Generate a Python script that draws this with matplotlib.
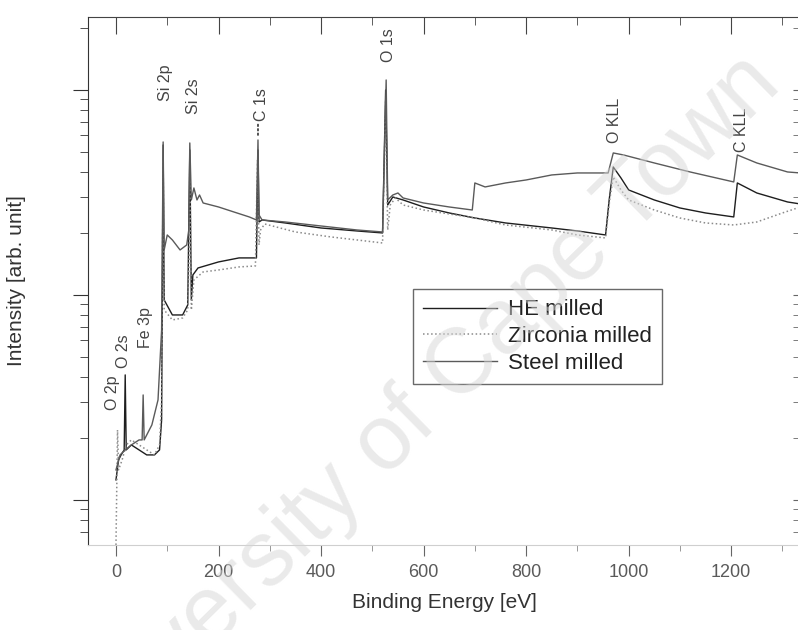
import numpy as np
import matplotlib.pyplot as plt
from matplotlib.ticker import MultipleLocator, LogLocator, NullFormatter

plt.rcParams['font.family'] = ['Liberation Sans', 'DejaVu Sans']

# binding energy [eV] and intensity [arb. unit]
e_steel = [0, 8, 18, 30, 45, 51, 53, 55, 70, 82, 89, 92, 94, 100, 110, 125, 138, 142, 144, 147,
           152, 158, 163, 170, 200, 230, 260, 274, 277, 279, 285, 330, 400, 470, 520, 527, 530,
           540, 550, 560, 600, 650, 695, 700, 720, 760, 800, 850, 900, 960, 970, 990, 1050,
           1120, 1205, 1212, 1250, 1310, 1335]
i_steel = [1401, 1658, 1754, 1855, 1962, 1962, 3252, 1962, 2322, 3075, 6750, 55770, 16580, 19620,
           18550, 16580, 17540, 20750, 55150, 29070, 33270, 29070, 30740, 28100, 26870, 25400,
           24020, 23220, 57040, 24560, 23220, 22700, 21700, 20750, 20290, 111900, 29070, 30740,
           31440, 29730, 28100, 26870, 25970, 35190, 33650, 35190, 36390, 38500, 39370, 39370,
           49290, 48190, 44050, 39810, 35590, 48190, 44050, 39810, 39370]

e_he = [0, 5, 10, 16, 18, 20, 30, 45, 60, 75, 85, 89, 92, 94, 110, 130, 140, 144, 147, 150, 160,
        200, 240, 274, 277, 279, 285, 330, 400, 470, 520, 526, 530, 540, 560, 600, 650, 700, 760,
        850, 900, 955, 962, 970, 985, 1000, 1050, 1100, 1150, 1205, 1212, 1250, 1310, 1335]
i_he = [1252, 1567, 1658, 1754, 4073, 1754, 1855, 1754, 1658, 1658, 1754, 2456, 53920, 9454, 7987,
        7987, 8938, 50970, 9454, 12520, 13540, 14490, 15160, 15160, 50970, 22700, 23220, 22450,
        21220, 20520, 20070, 100000, 27480, 30060, 29070, 26870, 25120, 23740, 22450, 21220,
        20520, 19620, 29070, 42110, 37220, 32520, 29070, 26570, 25120, 24020, 35190, 31440,
        28420, 27790]

e_zr = [0, 2, 3, 5, 12, 20, 30, 45, 60, 75, 85, 89, 92, 94, 110, 130, 140, 143, 144, 147, 152,
        170, 200, 240, 272, 276, 279, 282, 290, 350, 420, 470, 520, 526, 530, 535, 545, 560, 600,
        650, 700, 760, 850, 900, 955, 963, 970, 985, 1000, 1050, 1100, 1150, 1205, 1250, 1300,
        1335]
i_zr = [603, 1401, 2195, 1401, 1567, 1855, 1962, 1855, 1754, 1658, 1855, 3075, 45560, 8449, 7551,
        7723, 8449, 16580, 45560, 8449, 11840, 12950, 13240, 13700, 13850, 45560, 17540, 20750,
        22200, 20290, 19180, 18550, 17930, 89390, 20750, 27480, 29730, 27480, 25970, 24840,
        23740, 21950, 20750, 19620, 18970, 29070, 37640, 32520, 29070, 25970, 23740, 22450,
        21950, 22700, 25120, 26870]

peak_names = ['O 2p', 'O 2s', 'Fe 3p', 'Si 2p', 'Si 2s', 'C 1s', 'O 1s', 'O KLL', 'C KLL']
peak_e = [-6, 14, 58, 96, 152, 283, 531, 972, 1221]
peak_i = [3330, 5330, 6900, 108000, 93500, 84500, 166000, 71400, 63800]

fig = plt.figure(figsize=(7.98, 6.3), dpi=100)
ax = fig.add_axes([0.110, 0.135, 0.893, 0.838])

ax.plot(e_he, i_he, color='#1e1e1e', lw=1.0, label='HE milled')
ax.plot(e_zr, i_zr, color='#8a8a8a', lw=1.1, ls=':', label='Zirconia milled')
ax.plot(e_steel, i_steel, color='#5a5a5a', lw=1.0, label='Steel milled')

ax.set_yscale('log')
ax.set_xlim(-55, 1335)
ax.set_ylim(603, 227000)

ax.xaxis.set_major_locator(MultipleLocator(200))
ax.xaxis.set_minor_locator(MultipleLocator(100))
ax.yaxis.set_major_locator(LogLocator(base=10))
ax.yaxis.set_minor_locator(LogLocator(base=10, subs=np.arange(2, 10)))
ax.yaxis.set_major_formatter(NullFormatter())
ax.yaxis.set_minor_formatter(NullFormatter())
ax.tick_params(axis='x', which='major', direction='out', length=8, labelsize=13,
               labelcolor='#5a5a5a', color='#666666', pad=6)
ax.tick_params(axis='x', which='minor', direction='out', length=4, color='#888888')
ax.tick_params(axis='y', which='major', direction='out', length=11, color='#333333')
ax.tick_params(axis='y', which='minor', direction='out', length=6, color='#333333')

for s in ['top', 'right']:
    ax.spines[s].set_visible(False)
ax.spines['left'].set_color('#333333')
ax.spines['bottom'].set_color('#cfcfcf')

top = ax.secondary_xaxis('top')
top.xaxis.set_major_locator(MultipleLocator(200))
top.xaxis.set_minor_locator(MultipleLocator(100))
top.tick_params(which='major', direction='in', length=12, labeltop=False, color='#444444')
top.tick_params(which='minor', direction='in', length=6, color='#444444')
top.spines['top'].set_color('#444444')

right = ax.secondary_yaxis('right')
right.tick_params(which='both', direction='in', length=5, labelright=False, color='#666666')
right.yaxis.set_major_formatter(NullFormatter())
right.yaxis.set_minor_formatter(NullFormatter())

ax.set_xlabel('Binding Energy [eV]', fontsize=15, color='#333333', labelpad=8)
ax.set_ylabel('Intensity [arb. unit]', fontsize=15, color='#333333', labelpad=30)

for name, pe, pi in zip(peak_names, peak_e, peak_i):
    ax.text(pe, pi, name, rotation=90, ha='center', va='center', fontsize=11.5, color='#444444')
ax.annotate('', xy=(277, 57000), xytext=(277, 70000),
            arrowprops=dict(arrowstyle='-', ls=':', color='#333333', lw=1.2))

leg = ax.legend(loc='upper left', bbox_to_anchor=(0.457, 0.484), fontsize=16, frameon=True,
                fancybox=False, handlelength=3.3, handletextpad=0.5, borderpad=0.45,
                borderaxespad=0, labelspacing=0.25, edgecolor='#444444', labelcolor='#222222')
leg.get_frame().set_linewidth(1.0)

fig.text(0.52, 0.34, 'University of Cape Town', rotation=44.5, rotation_mode='anchor',
         ha='center', va='center', fontsize=66, color='#d6d6d6', alpha=0.5, zorder=10)

fig.savefig('out.png', dpi=100)
